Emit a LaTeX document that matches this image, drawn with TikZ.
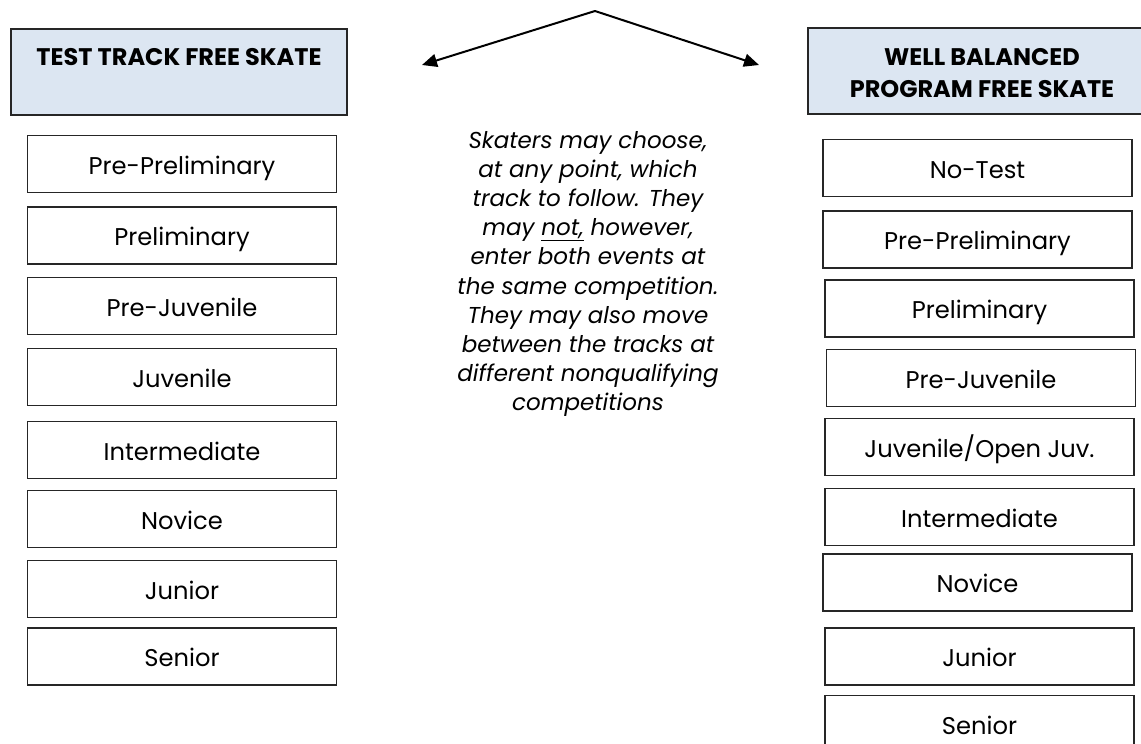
\documentclass[tikz,border=0pt]{standalone}
\usepackage{fontspec}
\setmainfont{Poppins}
\usetikzlibrary{arrows.meta}
\definecolor{hdrfill}{HTML}{DCE6F2}
\definecolor{edge}{HTML}{262626}
\tikzset{
  levelbox/.style={draw=edge, line width=1.6bp, minimum width=309bp, minimum height=57bp,
    inner sep=0pt, text height=20bp, text depth=0bp, font=\fontsize{24.2bp}{28bp}\selectfont},
  hdrbox/.style={draw=edge, fill=hdrfill, line width=1.6bp, minimum width=336bp, minimum height=86bp, inner sep=0pt},
  hdrtext/.style={align=center, inner sep=0pt, font=\fontsize{24bp}{32bp}\selectfont\bfseries},
  note/.style={align=center, inner sep=0pt, font=\fontsize{23bp}{29.2bp}\selectfont\itshape},
  arr/.style={line width=2bp, draw=black, -{Triangle[length=15bp,width=13bp]}}
}
\begin{document}
\begin{tikzpicture}[x=1bp,y=-1bp]
\useasboundingbox (0,0) rectangle (1141,744);
% headers
\node[hdrbox] (hl) at (179,72) {};
\node[hdrtext, anchor=base] (hlt) at (179,65.5) {TEST TRACK FREE SKATE};
\node[hdrbox, minimum width=342bp] (hr) at (979,71) {};
\node[hdrtext] (hrt) at (982,73) {WELL BALANCED\\PROGRAM FREE SKATE};
% left column
\node[levelbox] (l1) at (182,164) {Pre-Preliminary};
\node[levelbox] (l2) at (182,235.5) {Preliminary};
\node[levelbox] (l3) at (182,306) {Pre-Juvenile};
\node[levelbox] (l4) at (182,377) {Juvenile};
\node[levelbox] (l5) at (182,450) {Intermediate};
\node[levelbox] (l6) at (182,519) {Novice};
\node[levelbox] (l7) at (182,589) {Junior};
\node[levelbox] (l8) at (182,656.5) {Senior};
% right column
\node[levelbox] (r1) at (977.5,168) {No-Test};
\node[levelbox] (r2) at (977.5,239.5) {Pre-Preliminary};
\node[levelbox] (r3) at (979.5,308.5) {Preliminary};
\node[levelbox] (r4) at (981,378) {Pre-Juvenile};
\node[levelbox] (r5) at (979.5,447) {Juvenile/Open Juv.};
\node[levelbox] (r6) at (979.5,517) {Intermediate};
\node[levelbox] (r7) at (977.5,582.5) {Novice};
\node[levelbox] (r8) at (979.5,656.5) {Junior};
\node[levelbox] (r9) at (979.5,724) {Senior};
% note
\node[note] (nt) at (588,274) {Skaters may choose,\\at any point, which\\track to follow. They\\may \underline{not,} however,\\enter both events at\\the same competition.\\They may also move\\between the tracks at\\different nonqualifying\\competitions};
% arrows
\coordinate (apex) at (595,11);
\coordinate (tl) at (422,65);
\coordinate (tr) at (759,65);
\draw[arr, line cap=round] (apex) -- (tl);
\draw[arr, line cap=round] (apex) -- (tr);
\end{tikzpicture}
\end{document}
